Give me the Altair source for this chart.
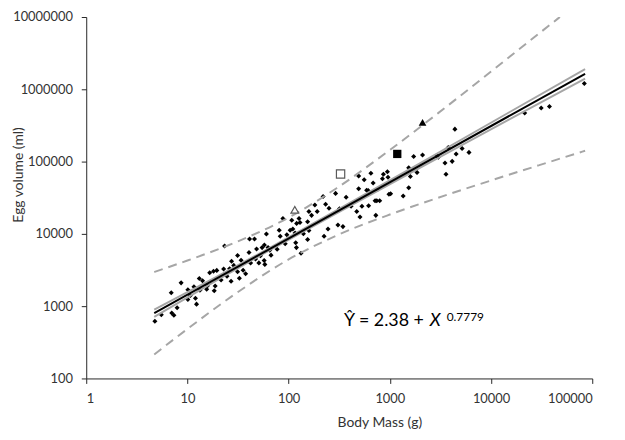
import altair as alt
import pandas as pd

# ---- scatter data (body mass g, egg volume ml) ----
mass = [4.77, 5.52, 6.92, 7.0, 7.35, 7.91, 8.66, 10.1, 10.1, 10.7, 11.6, 12.0, 12.3, 13.1,
        14.1, 13.3, 15.5, 15.8, 16.6, 18.4, 18.8, 18.1, 19.5, 21.5, 22.8, 23.3, 24.6, 26.1,
        27.0, 27.3, 28.7, 31.3, 31.3, 32.6, 33.9, 35.5, 37.6, 40.6, 42.1, 41.1, 46.0, 47.1,
        48.2, 52.7, 54.7, 57.6, 60.3, 62.6, 65.1, 50.8, 57.3, 58.2, 67.0, 80.7, 82.6, 87.8,
        92.5, 96.0, 103.5, 107.4, 110, 115.7, 120, 126.7, 129.5, 140, 117.5, 119.4, 132.5,
        158.6, 154, 158.6, 154, 168.5, 181.6, 191.5, 219, 232, 250.6, 291, 370, 471, 492,
        492, 558, 617, 530, 590, 650, 684, 715, 755, 414, 727, 794, 507, 1720, 2105, 845,
        864, 946, 959, 611, 1537, 1596, 1857, 1018, 1355, 1537, 743, 3508, 3588, 3017, 4395,
        5176, 6055, 4520, 4130, 3777, 2911, 21500, 31300, 37760, 83500, 224, 245, 307, 344,
        318, 980, 77]
volume = [618, 760, 1535, 804, 750, 953, 2100, 1236, 1686, 1400, 1850, 1285, 1067, 2415,
          2240, 1660, 1712, 1923, 2890, 1633, 1905, 3050, 3125, 2296, 3275, 6790, 2596, 3300,
          2213, 4190, 3665, 5010, 2985, 2427, 4315, 3140, 2805, 5530, 3970, 8510, 8510, 4500,
          6195, 4990, 6455, 7020, 9940, 6455, 5935, 3970, 4275, 3782, 5080, 11250, 9270, 16300,
          7300, 9730, 11250, 15450, 11700, 10260, 13960, 16300, 14390, 10030, 7530, 6455, 5410,
          20400, 14730, 11140, 8340, 18030, 25060, 20400, 32800, 25630, 22650, 36300, 32100,
          20400, 42000, 63360, 55980, 24560, 24100, 40250, 68900, 50600, 28650, 41100, 24100,
          18030, 28650, 17140, 117500, 123700, 57700, 66700, 72300, 60800, 39900, 81900, 62000,
          70900, 35950, 33400, 43350, 28700, 95500, 66700, 115000, 281000, 151800, 134000,
          127600, 100700, 156400, 121000, 471000, 549500, 579000, 1200000, 9270, 11700, 13240,
          12600, 22200, 35240, 6120]

# ---- highlighted species ----
special_mass = [115, 326, 1184, 2105]
special_volume = [21500, 67300, 127600, 349000]
special_shape = ["triangle-up", "square", "square", "triangle-up"]
special_filled = [False, False, True, True]

# ---- fitted line and bands ----
fit_mass = [4.7, 85000]
fit_volume = [800, 1640000]

ci_mass = [4.7, 20, 60, 300, 2000, 15000, 85000]
ci_upper = [897, 2610, 6000, 21240, 95000, 477500, 1900000]
ci_lower = [713, 2330, 5600, 19370, 82800, 379300, 1410000]

pi_upper_mass = [4.7, 10, 30, 100, 300, 1000, 3000, 10000, 30000, 47900]
pi_upper = [2970, 4280, 7650, 16800, 43150, 144500, 468000, 1760000, 5960000, 10000000]
pi_lower_mass = [4.7, 10, 30, 100, 300, 1000, 3000, 10000, 30000, 85000]
pi_lower = [215, 484, 1493, 4430, 9530, 18530, 31600, 54800, 89300, 141000]

x_ticks = [1, 10, 100, 1000, 10000, 100000]
y_ticks = [100, 1000, 10000, 100000, 1000000, 10000000]

FONT = "Lato"
AXIS_COL = "#262626"
TEXT_COL = "#333333"

xscale = alt.Scale(type="log", domain=[1, 100000])
yscale = alt.Scale(type="log", domain=[100, 10000000])

x_axis = alt.Axis(values=x_ticks, format="d", title="Body Mass (g)", grid=False,
                  domainColor=AXIS_COL, tickColor=AXIS_COL, tickSize=5,
                  labelColor=TEXT_COL, labelFont=FONT, labelFontSize=13, labelPadding=9,
                  titleColor=TEXT_COL, titleFont=FONT, titleFontSize=14, titleFontWeight="normal",
                  titleX=296, titleY=45, titleBaseline="middle")
y_axis = alt.Axis(values=y_ticks, format="d", title="Egg volume (ml)", grid=False,
                  domainColor=AXIS_COL, tickColor=AXIS_COL, tickSize=5,
                  labelColor=TEXT_COL, labelFont=FONT, labelFontSize=13, labelPadding=9,
                  titleColor=TEXT_COL, titleFont=FONT, titleFontSize=14, titleFontWeight="normal",
                  titleX=-68, titleY=159, titleBaseline="middle")


def enc_x(field):
    return alt.X(f"{field}:Q", scale=xscale, axis=x_axis)


def enc_y(field):
    return alt.Y(f"{field}:Q", scale=yscale, axis=y_axis)


pts = pd.DataFrame({"m": mass, "v": volume})
scatter = alt.Chart(pts).mark_point(shape="diamond", filled=True, color="black",
                                    size=26, opacity=1).encode(
    x=enc_x("m"), y=enc_y("v"))

ci = pd.DataFrame({"m": ci_mass, "u": ci_upper, "l": ci_lower})
ci_up = alt.Chart(ci).mark_line(color="#a6a6a6", strokeWidth=2).encode(x=enc_x("m"), y=enc_y("u"))
ci_lo = alt.Chart(ci).mark_line(color="#a6a6a6", strokeWidth=2).encode(x=enc_x("m"), y=enc_y("l"))

fit = pd.DataFrame({"m": fit_mass, "v": fit_volume})
fit_line = alt.Chart(fit).mark_line(color="black", strokeWidth=2).encode(x=enc_x("m"), y=enc_y("v"))

pu = pd.DataFrame({"m": pi_upper_mass, "v": pi_upper})
pl = pd.DataFrame({"m": pi_lower_mass, "v": pi_lower})
pi_up = alt.Chart(pu).mark_line(color="#a6a6a6", strokeWidth=2, strokeDash=[9, 6],
                                interpolate="monotone", clip=True).encode(x=enc_x("m"), y=enc_y("v"))
pi_lo = alt.Chart(pl).mark_line(color="#a6a6a6", strokeWidth=2, strokeDash=[9, 6],
                                interpolate="monotone").encode(x=enc_x("m"), y=enc_y("v"))

special_layers = []
for m, v, s, f in zip(special_mass, special_volume, special_shape, special_filled):
    d = pd.DataFrame({"m": [m], "v": [v]})
    size = 70 if s == "square" else 60
    if f:
        mk = alt.Chart(d).mark_point(shape=s, filled=True, color="black", size=size, opacity=1)
    else:
        mk = alt.Chart(d).mark_point(shape=s, filled=False, fill="white", stroke="#595959",
                                     strokeWidth=1.2, size=size, opacity=1)
    special_layers.append(mk.encode(x=enc_x("m"), y=enc_y("v")))

eq_main = alt.Chart(pd.DataFrame({"t": ["Ŷ = 2.38 +"]})).mark_text(
    align="right", baseline="alphabetic", font=FONT, fontSize=18, color="black").encode(
    text="t:N", x=alt.value(341), y=alt.value(312))
eq_x = alt.Chart(pd.DataFrame({"t": ["X"]})).mark_text(
    align="left", baseline="alphabetic", font=FONT, fontSize=18, fontStyle="italic",
    color="black").encode(text="t:N", x=alt.value(347), y=alt.value(312))
eq_exp = alt.Chart(pd.DataFrame({"t": ["0.7779"]})).mark_text(
    align="left", baseline="alphabetic", font=FONT, fontSize=12, color="black").encode(
    text="t:N", x=alt.value(364), y=alt.value(307))

chart = alt.layer(
    scatter, pi_up, pi_lo, ci_up, ci_lo, fit_line, *special_layers, eq_main, eq_x, eq_exp
).properties(
    width=511, height=365,
    background="white",
    autosize=alt.AutoSizeParams(type="none"),
    padding={"left": 79, "top": 7, "right": 25, "bottom": 54},
).configure_view(stroke=None)

chart.save("out.html", embed_options={"renderer": "svg", "actions": False})
